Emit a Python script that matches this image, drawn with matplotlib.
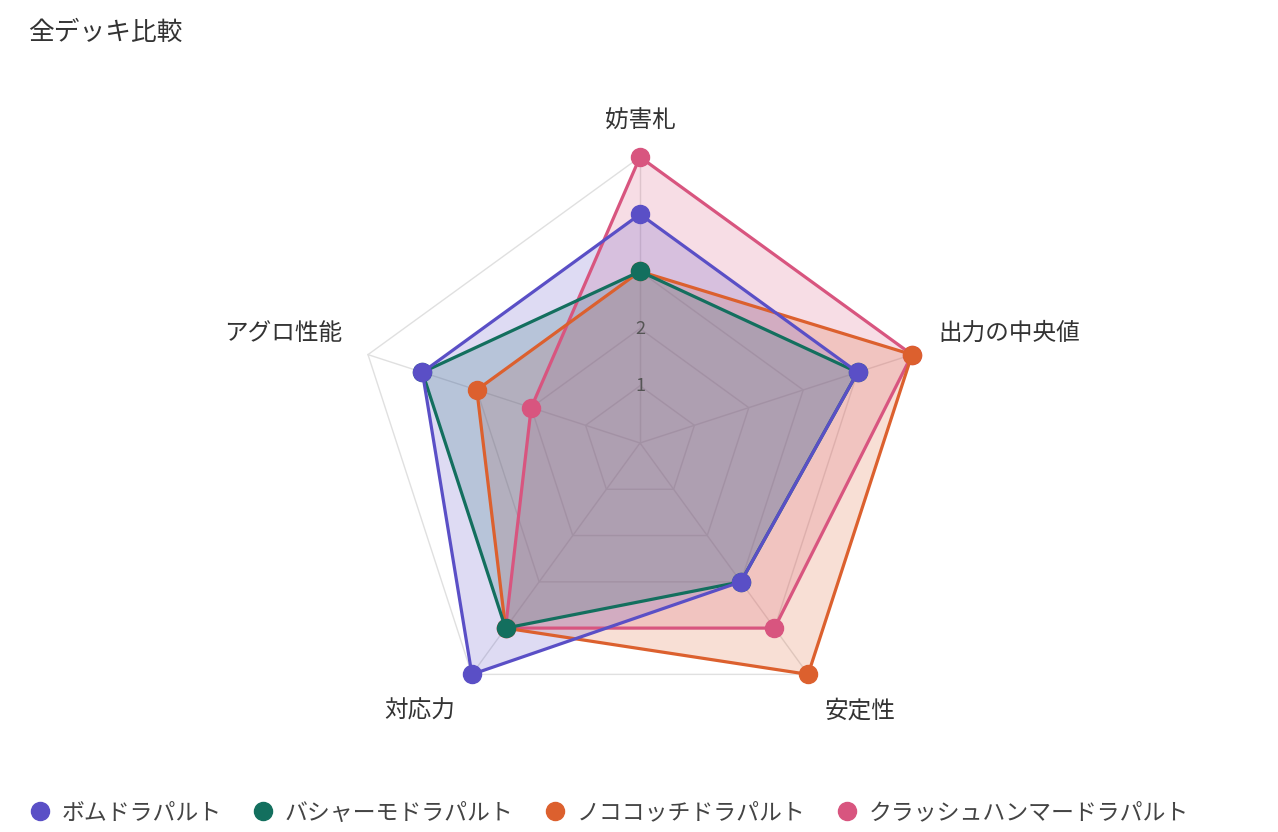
import numpy as np
import matplotlib
matplotlib.use("Agg")
import matplotlib.pyplot as plt
from matplotlib.lines import Line2D

plt.rcParams['font.family'] = ['Noto Sans CJK JP', 'DejaVu Sans']

# データ
axis_labels = ['妨害札', '出力の中央値', '安定性', '対応力', 'アグロ性能']
deck_names = ['ボムドラパルト', 'バシャーモドラパルト', 'ノココッチドラパルト', 'クラッシュハンマードラパルト']
bomb = [4, 4, 3, 5, 4]
basha = [3, 4, 3, 4, 4]
noko = [3, 5, 5, 4, 3]
crash = [5, 5, 4, 4, 2]
series = [bomb, basha, noko, crash]
colors = ['#5a4fc6', '#136f5e', '#dc602e', '#d8557f']
r_ticks = [1, 2, 3, 4, 5]
r_max = 5

W, H = 1278, 832
fig = plt.figure(figsize=(W / 100, H / 100), dpi=100)

# 中心 (640, 443) px, 半径 286 px
cx, cy, rad = 640, 443, 286
ax = fig.add_axes([(cx - rad) / W, (H - cy - rad) / H, 2 * rad / W, 2 * rad / H],
                  projection='polar')
ax.set_theta_offset(np.pi / 2)
ax.set_theta_direction(-1)
ax.set_ylim(0, r_max)
ax.set_xticks([])
ax.set_yticks([])
ax.grid(False)
ax.spines['polar'].set_visible(False)
ax.patch.set_visible(False)

n = len(axis_labels)
theta = np.linspace(0, 2 * np.pi, n, endpoint=False)
theta_c = np.append(theta, theta[0])

# 五角形のグリッド
grid_col = '#e0e0e0'
for r in r_ticks:
    ax.plot(theta_c, [r] * (n + 1), color=grid_col, lw=1, zorder=1, clip_on=False)
for t in theta:
    ax.plot([t, t], [0, r_max], color=grid_col, lw=1, zorder=1, clip_on=False)

# 目盛りラベル (塗りの上、線と点の下)
for r in r_ticks:
    ax.text(0, r, str(r), ha='center', va='center', fontsize=13,
            color='#555555', zorder=3)

# データ系列 (先頭の系列が一番上)
for i, (vals, col) in enumerate(zip(series, colors)):
    z = 12 - i * 2
    v = np.append(vals, vals[0])
    ax.fill(theta_c, v, color=col, alpha=0.2, lw=0, zorder=2.4 - i * 0.1)
    ax.plot(theta_c, v, color=col, lw=2.3, zorder=z, clip_on=False)
    ax.plot(theta, vals, 'o', color=col, markersize=13, zorder=z + 0.5, clip_on=False)

# 軸ラベル
offsets = [(0, 36, 'center'), (26, 21, 'left'), (52, -37, 'center'),
           (-52, -37, 'center'), (-26, 21, 'right')]
for t, lab, (dx, dy, ha) in zip(theta, axis_labels, offsets):
    ax.annotate(lab, xy=(t, r_max), xytext=(dx, dy), textcoords='offset pixels',
                ha=ha, va='center', fontsize=17, color='#333333', annotation_clip=False)

fig.text(28 / W, 1 - 33 / H, '全デッキ比較', ha='left', va='center',
         fontsize=18.5, color='#333333')

handles = [Line2D([], [], marker='o', ls='', color=c, markersize=13) for c in colors]
fig.legend(handles, deck_names, loc='center left', bbox_to_anchor=(8 / W, 1 - 813 / H),
           ncol=4, frameon=False, fontsize=16.5, handlelength=1.0, handletextpad=0.45,
           columnspacing=1.3, labelcolor='#444444')

fig.savefig('out.png', dpi=100, facecolor='white')
